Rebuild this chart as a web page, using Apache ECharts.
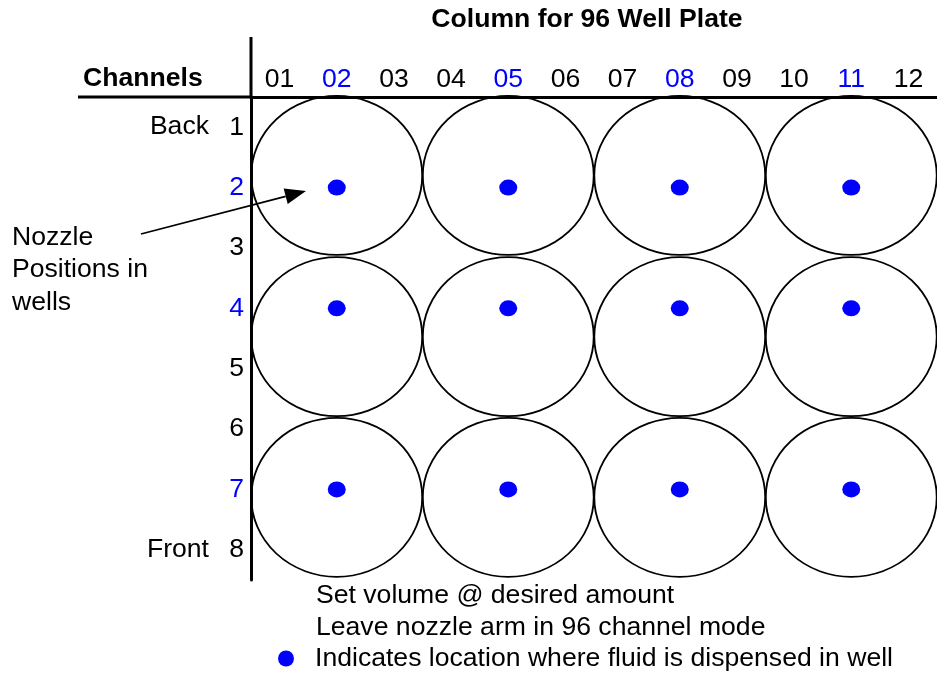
<!DOCTYPE html>
<html><head><meta charset="utf-8">
<script src="https://cdn.jsdelivr.net/npm/echarts@6/dist/echarts.min.js"></script>
<style>html,body{margin:0;padding:0;background:#fff}#c{width:937px;height:677px}</style>
</head><body><div id="c"></div><script>
// ---- data ----
const columnLabels = ['01','02','03','04','05','06','07','08','09','10','11','12'];
const channelLabels = ['1','2','3','4','5','6','7','8'];
const highlightColumns = [2, 5, 8, 11];
const highlightChannels = [2, 4, 7];
const wellColumns = [2, 5, 8, 11];
const wellRows = [1.8, 4.47, 7.13];
const nozzleColumns = [2, 5, 8, 11];
const nozzleChannels = [2, 4, 7];
const titleText = 'Column for 96 Well Plate';
const channelsTitle = 'Channels';
const backLabel = 'Back';
const frontLabel = 'Front';
const annotationLines = ['Nozzle', 'Positions in', 'wells'];
const notes = ['Set volume @ desired amount', 'Leave nozzle arm in 96 channel mode'];
const legendText = 'Indicates location where fluid is dispensed in well';

// ---- build ----
const FF = '"Liberation Sans", Arial, sans-serif';
const FS = 26.6;
const BLUE = '#0000ff';
const wells = [];
wellRows.forEach(r => wellColumns.forEach(c => wells.push([c, r])));
const nozzles = [];
nozzleChannels.forEach(r => nozzleColumns.forEach(c => nozzles.push([c, r])));
const colValues = columnLabels.map((_, i) => i + 1);
const chValues = channelLabels.map((_, i) => i + 1);

const chart = echarts.init(document.getElementById('c'), null, {renderer: 'canvas'});

// annotation geometry (layout)
const arrowStart = [141, 234], arrowTip = [306, 191];
const dx = arrowTip[0] - arrowStart[0], dy = arrowTip[1] - arrowStart[1];
const L = Math.hypot(dx, dy), ux = dx / L, uy = dy / L;
const headLen = 21, headHalf = 8;
const base = [arrowTip[0] - headLen * ux, arrowTip[1] - headLen * uy];
const nx = -uy, ny = ux;

const txt = (text, x, y, align, bold) => ({
  type: 'text', silent: true, z: 10,
  style: {text, x, y, align: align || 'left', verticalAlign: 'middle',
    font: (bold ? 'bold ' : '') + FS + 'px ' + FF, fill: '#000'}
});

const option = {
  backgroundColor: '#fff',
  animation: false,
  grid: {left: 251, top: 97, width: 696, height: 483, containLabel: false},
  xAxis: {
    type: 'value', position: 'top', min: 0.5, max: 12.5,
    axisLine: {show: true, onZero: false, lineStyle: {color: '#000', width: 3}},
    axisTick: {show: false}, splitLine: {show: false},
    axisLabel: {
      customValues: colValues, margin: 4, fontSize: FS, fontFamily: FF, color: '#000',
      formatter: v => {
        const t = columnLabels[Math.round(v) - 1] || '';
        return highlightColumns.includes(Math.round(v)) ? '{b|' + t + '}' : t;
      },
      rich: {b: {color: BLUE, fontSize: FS, fontFamily: FF}}
    }
  },
  yAxis: {
    type: 'value', inverse: true, min: 0.5, max: 8.5,
    axisLine: {show: true, onZero: false, lineStyle: {color: '#000', width: 3}},
    axisTick: {show: false}, splitLine: {show: false},
    axisLabel: {
      customValues: chValues, margin: 7, fontSize: FS, fontFamily: FF, color: '#000',
      formatter: v => {
        const t = channelLabels[Math.round(v) - 1] || '';
        return highlightChannels.includes(Math.round(v)) ? '{b|' + t + '}' : t;
      },
      rich: {b: {color: BLUE, fontSize: FS, fontFamily: FF}}
    }
  },
  legend: {
    data: [legendText], left: 278, top: 645, padding: 0, icon: 'circle',
    itemWidth: 18, itemHeight: 16, symbolKeepAspect: false, selectedMode: false,
    itemStyle: {color: BLUE, opacity: 1},
    textStyle: {fontSize: FS, fontFamily: FF, color: '#000', padding: [0, 0, 0, 15]}
  },
  series: [
    {
      name: 'Wells', type: 'scatter', data: wells, symbol: 'circle', symbolSize: [171, 159],
      clip: false, silent: true, z: 2,
      itemStyle: {color: 'rgba(0,0,0,0)', borderColor: '#000', borderWidth: 1.8, opacity: 1}
    },
    {
      name: legendText, type: 'scatter', data: nozzles, symbol: 'circle', symbolSize: [18, 16],
      clip: false, silent: true, z: 3, itemStyle: {color: BLUE, opacity: 1}
    }
  ],
  graphic: [
    txt(titleText, 587, 20, 'center', true),
    txt(channelsTitle, 83, 79, 'left', true),
    txt(backLabel, 209, 127, 'right'),
    txt(frontLabel, 209, 550, 'right'),
    txt(annotationLines[0], 12, 238),
    txt(annotationLines[1], 12, 270),
    txt(annotationLines[2], 12, 303),
    txt(notes[0], 316, 596),
    txt(notes[1], 316, 628),
    {type: 'line', silent: true, z: 10, shape: {x1: 78, y1: 97, x2: 251, y2: 97}, style: {stroke: '#000', lineWidth: 3}},
    {type: 'line', silent: true, z: 10, shape: {x1: 251, y1: 37, x2: 251, y2: 97}, style: {stroke: '#000', lineWidth: 3}},
    {type: 'line', silent: true, z: 10, shape: {x1: arrowStart[0], y1: arrowStart[1], x2: base[0], y2: base[1]}, style: {stroke: '#000', lineWidth: 1.8}},
    {type: 'polygon', silent: true, z: 10, shape: {points: [arrowTip,
      [base[0] + headHalf * nx, base[1] + headHalf * ny],
      [base[0] - headHalf * nx, base[1] - headHalf * ny]]}, style: {fill: '#000'}}
  ]
};
chart.setOption(option);
</script></body></html>
